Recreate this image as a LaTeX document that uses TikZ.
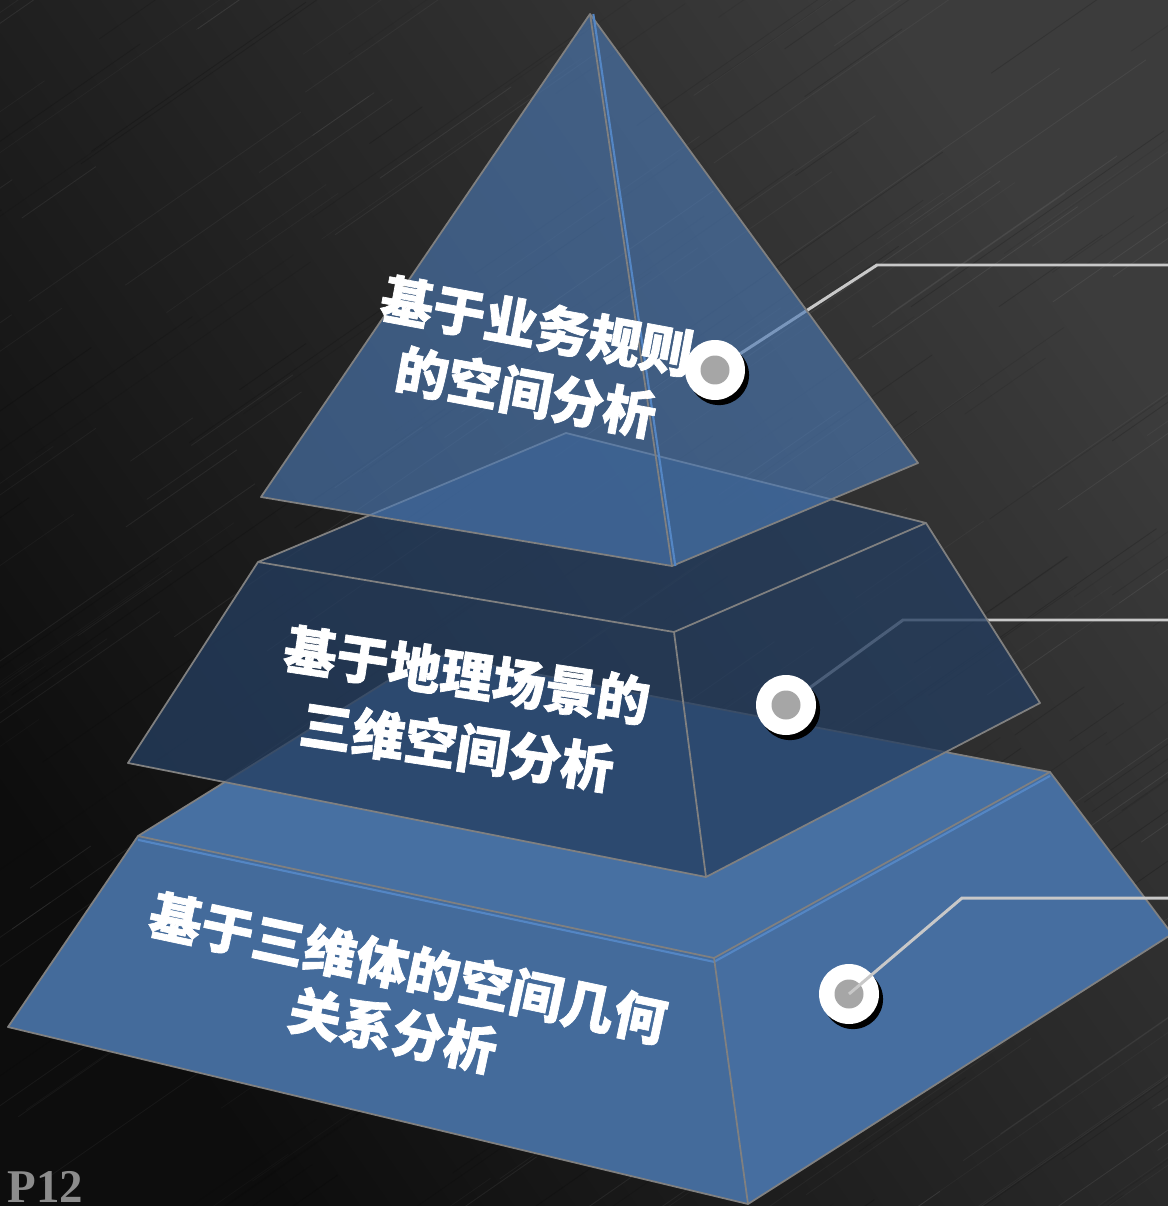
\documentclass[tikz,border=0pt]{standalone}
\usepackage{fontspec}
\newfontfamily\cjk{Noto Sans CJK SC}[BoldFeatures={FakeBold=1.3}]
\newfontfamily\pfont{Liberation Serif}
\definecolor{bglight}{RGB}{60,60,60}
\definecolor{bgdark}{RGB}{13,13,13}
\definecolor{pyrc}{RGB}{76,122,181}
\definecolor{midc}{RGB}{37,62,96}
\definecolor{botl}{RGB}{68,107,155}
\definecolor{bott}{RGB}{71,112,162}
\definecolor{botr}{RGB}{70,110,160}
\definecolor{edgec}{RGB}{128,128,128}
\definecolor{hic}{RGB}{84,134,196}
\definecolor{callc}{RGB}{200,200,200}
\definecolor{dotg}{RGB}{166,166,166}
\definecolor{pgray}{RGB}{140,140,140}
\tikzset{
  edge/.style={draw=edgec, line width=1pt, line join=round},
  hiline/.style={draw=hic, line width=1.2pt, line join=round},
  callout/.style={draw=callc, line width=1.7pt, line join=miter},
  lbl/.style={text=white, font=\cjk\bfseries\fontsize{30pt}{36pt}\selectfont, inner sep=0pt},
  dotsh/.style={circle, fill=black, minimum size=1.2cm, inner sep=0pt},
  dotw/.style={circle, fill=white, minimum size=1.2cm, inner sep=0pt},
  doti/.style={circle, fill=dotg, minimum size=0.58cm, inner sep=0pt},
  streak/.style={line width=0.5pt, line cap=round},
}
\begin{document}
\begin{tikzpicture}[x=0.02cm,y=-0.02cm]
\useasboundingbox (0,0) rectangle (1168,1206);
\clip (0,0) rectangle (1168,1206);
\shade[top color=bglight, bottom color=bgdark, shading angle=-55] (0,0) rectangle (1168,1206);
% brushed texture
\pgfmathsetseed{12}
\foreach \i in {1,...,220}{
  \pgfmathsetmacro\sx{rnd*1600-300}
  \pgfmathsetmacro\sy{rnd*1500}
  \pgfmathsetmacro\len{60+rnd*320}
  \pgfmathsetmacro\op{0.02+rnd*0.05}
  \draw[streak, white, opacity=\op] (\sx,\sy) -- ++(0.82*\len,-0.57*\len);
}
\foreach \i in {1,...,160}{
  \pgfmathsetmacro\sx{rnd*1600-300}
  \pgfmathsetmacro\sy{rnd*1500}
  \pgfmathsetmacro\len{60+rnd*320}
  \pgfmathsetmacro\op{0.05+rnd*0.12}
  \draw[streak, black, opacity=\op] (\sx,\sy) -- ++(0.82*\len,-0.57*\len);
}

% vertices
\coordinate (A) at (590,14);
\coordinate (L1) at (261,497);
\coordinate (F1) at (672,566);
\coordinate (R1) at (918,463);
\coordinate (MB) at (566,433);
\coordinate (ML) at (258,562);
\coordinate (MF) at (674,632);
\coordinate (MR) at (926,523);
\coordinate (BL) at (128,763);
\coordinate (BF) at (706,877);
\coordinate (BR) at (1040,703);
\coordinate (TB) at (431,654);
\coordinate (TL) at (138,836);
\coordinate (TF) at (714,958);
\coordinate (TR) at (1050,772);
\coordinate (GL) at (8,1027);
\coordinate (GF) at (748,1204);
\coordinate (GR) at (1172,934);
% callout points
\coordinate (d1) at (715,370);
\coordinate (d2) at (786,705);
\coordinate (d3) at (849,994);
\coordinate (k1) at (877,265);
\coordinate (k2) at (903,620);
\coordinate (k3) at (962,898);
\coordinate (e1) at (1170,265);
\coordinate (e2) at (1170,620);
\coordinate (e3) at (1170,898);

% bottom tier
\fill[botl] (TL) -- (TF) -- (GF) -- (GL) -- cycle;
\fill[botr] (TF) -- (TR) -- (GR) -- (GF) -- cycle;
\fill[bott] (TB) -- (TR) -- (TF) -- (TL) -- cycle;
\draw[hiline] ([yshift=-2.2pt]TL) -- ([yshift=-2.2pt]TF) -- ([yshift=-2.2pt]TR);
\draw[edge] (TB) -- (TR) -- (TF) -- (TL) -- cycle;
\draw[edge] (TL) -- (GL) -- (GF) -- (GR) -- (TR);
\draw[edge] (TF) -- (GF);

% callout 2 (under middle tier)
\draw[callout] (d2) -- (k2) -- (e2);

% middle tier
\fill[midc, fill opacity=0.77] (MB) -- (MR) -- (BR) -- (BF) -- (BL) -- (ML) -- cycle;
\draw[edge] (MB) -- (MR) -- (MF) -- (ML) -- cycle;
\draw[edge] (ML) -- (BL) -- (BF) -- (BR) -- (MR);
\draw[edge] (MF) -- (BF);

% callout 1 (under top pyramid)
\draw[callout] (d1) -- (k1) -- (e1);

% top pyramid
\fill[pyrc, fill opacity=0.63] (A) -- (L1) -- (F1) -- (R1) -- cycle;
\draw[edge] (A) -- (L1) -- (F1) -- (R1) -- cycle;
\draw[hiline] ([xshift=1.9pt]A) -- ([xshift=1.9pt]F1);
\draw[edge] (A) -- (F1);

% labels
\node[lbl, rotate=-10.5] (t1a) at (537,326) {基于业务规则};
\node[lbl, rotate=-10.5] (t1b) at (526,392) {的空间分析};
\node[lbl, rotate=-8.5] (t2a) at (467,675) {基于地理场景的};
\node[lbl, rotate=-8.5] (t2b) at (457,746) {三维空间分析};
\node[lbl, rotate=-12] (t3a) at (408,968) {基于三维体的空间几何};
\node[lbl, rotate=-12] (t3b) at (393,1030) {关系分析};

% markers
\node[dotsh, xshift=2.3pt, yshift=-2.9pt] (m1s) at (d1) {};
\node[dotw] (m1) at (d1) {};
\node[doti] (m1i) at (d1) {};
\node[dotsh, xshift=2.3pt, yshift=-2.9pt] (m2s) at (d2) {};
\node[dotw] (m2) at (d2) {};
\node[doti] (m2i) at (d2) {};
\node[dotsh, xshift=2.3pt, yshift=-2.9pt] (m3s) at (d3) {};
\node[dotw] (m3) at (d3) {};
\node[doti] (m3i) at (d3) {};
\draw[callout] (m3.center) -- (k3) -- (e3);

% page number
\node[anchor=base west, inner sep=0pt, text=pgray, font=\pfont\bfseries\fontsize{26.7pt}{30pt}\selectfont] (pg) at (7,1202) {P12};
\end{tikzpicture}
\end{document}
